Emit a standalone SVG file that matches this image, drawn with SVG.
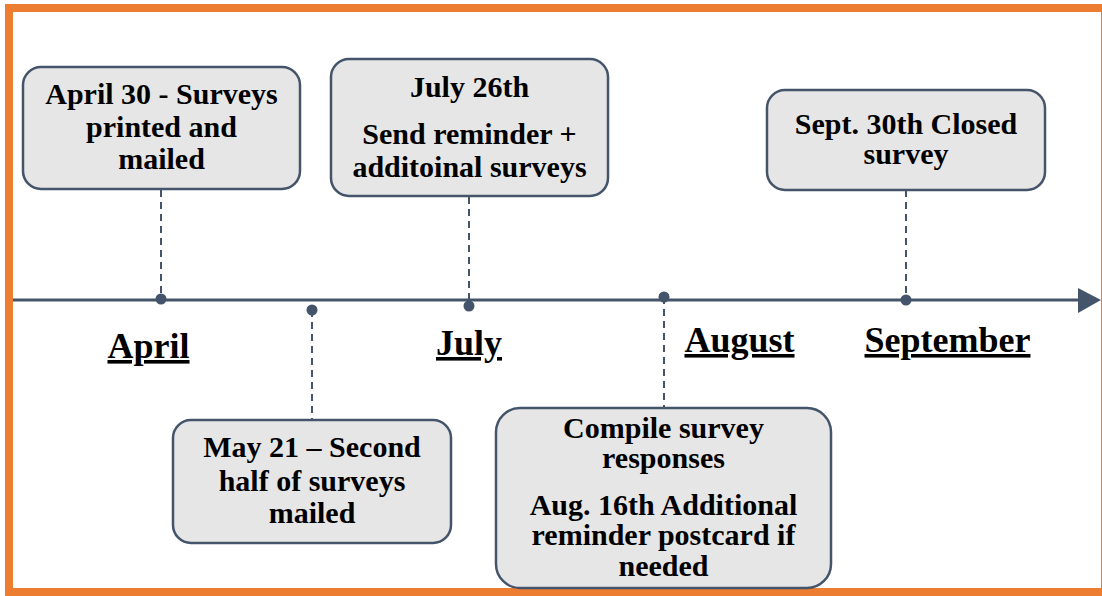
<svg xmlns="http://www.w3.org/2000/svg" width="1102" height="596" viewBox="0 0 1102 596">
<style>
.box{fill:#E7E6E6;stroke:#44546A;stroke-width:2.5}
.t{font-family:"Liberation Serif","Times New Roman",serif;font-weight:bold;font-size:30px;fill:#000;text-anchor:middle}
.m{font-family:"Liberation Serif","Times New Roman",serif;font-weight:bold;font-size:36px;fill:#000;text-anchor:middle;text-decoration:underline}
.dash{stroke:#44546A;stroke-width:2;stroke-dasharray:7,5;fill:none}
.dot{fill:#44546A}
</style>
<rect x="0" y="0" width="1102" height="596" fill="#fff"/>
<rect x="9" y="8" width="1096" height="584" fill="none" stroke="#ED7D31" stroke-width="8"/>
<g id="connectors">
<line x1="13" y1="300" x2="1080" y2="300" stroke="#44546A" stroke-width="3"/>
<polygon points="1078,288 1101,300 1078,313" fill="#44546A"/>
<line class="dash" x1="161" y1="190" x2="161" y2="300"/>
<line class="dash" x1="312" y1="310" x2="312" y2="420"/>
<line class="dash" x1="469" y1="197" x2="469" y2="306"/>
<line class="dash" x1="664" y1="297" x2="664" y2="408"/>
<line class="dash" x1="906" y1="190" x2="906" y2="300"/>
<circle class="dot" cx="161" cy="299" r="5.5"/>
<circle class="dot" cx="312" cy="310" r="5.5"/>
<circle class="dot" cx="469" cy="306" r="5.5"/>
<circle class="dot" cx="664" cy="297" r="5.5"/>
<circle class="dot" cx="906" cy="300" r="5.5"/>
</g>
<g id="m-april"><text class="m" x="148.5" y="358">April</text></g>
<g id="m-july"><text class="m" x="469" y="355">July</text></g>
<g id="m-august"><text class="m" x="739.5" y="352">August</text></g>
<g id="m-september"><text class="m" x="947.5" y="352">September</text></g>
<g id="n-april30">
<rect class="box" x="23" y="67" width="277" height="122" rx="18"/>
<text class="t" x="161.5" y="104">April 30 - Surveys</text>
<text class="t" x="161.5" y="137">printed and</text>
<text class="t" x="161.5" y="169">mailed</text>
</g>
<g id="n-july26">
<rect class="box" x="331" y="59" width="277" height="137" rx="18"/>
<text class="t" x="469.5" y="97">July 26th</text>
<text class="t" x="469.5" y="144">Send reminder +</text>
<text class="t" x="469.5" y="177">additoinal surveys</text>
</g>
<g id="n-sept30">
<rect class="box" x="767" y="90" width="278" height="100" rx="18"/>
<text class="t" x="906" y="134">Sept. 30th Closed</text>
<text class="t" x="906" y="164">survey</text>
</g>
<g id="n-may21">
<rect class="box" x="173" y="420" width="278" height="123" rx="18"/>
<text class="t" x="312" y="457">May 21 – Second</text>
<text class="t" x="312" y="491">half of surveys</text>
<text class="t" x="312" y="523">mailed</text>
</g>
<g id="n-aug">
<rect class="box" x="496" y="408" width="335" height="180" rx="24"/>
<text class="t" x="663.5" y="438">Compile survey</text>
<text class="t" x="663.5" y="468">responses</text>
<text class="t" x="663.5" y="515">Aug. 16th Additional</text>
<text class="t" x="663.5" y="545">reminder postcard if</text>
<text class="t" x="663.5" y="576">needed</text>
</g>
</svg>
